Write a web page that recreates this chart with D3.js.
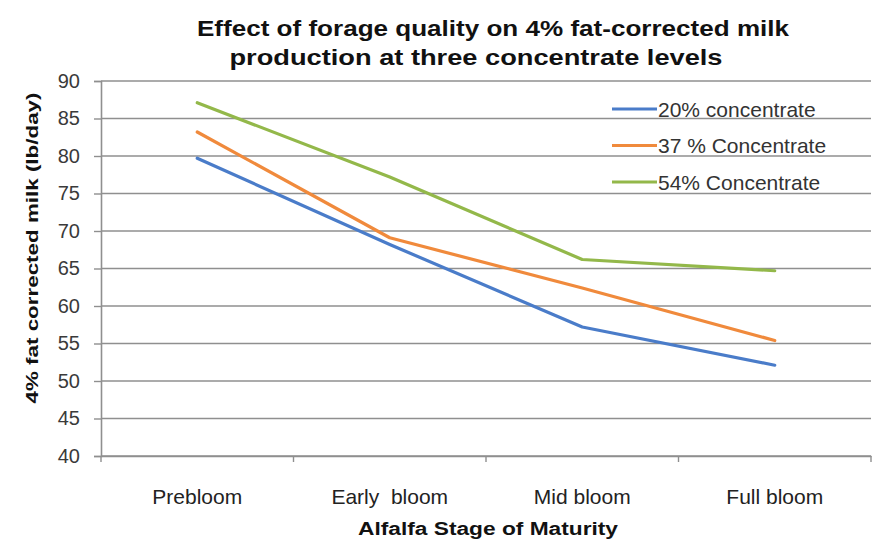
<!DOCTYPE html>
<html><head><meta charset="utf-8">
<script src="https://cdn.jsdelivr.net/npm/d3@7"></script>
<style>body{margin:0;background:#fff}svg{display:block}text{font-family:"Liberation Sans",Arial,Helvetica,sans-serif}</style>
</head><body>
<svg id="c" width="877" height="544"></svg>
<script>
const categories = ["Prebloom", "Early  bloom", "Mid bloom", "Full bloom"];
const conc20 = [79.7, 68.2, 57.2, 52.1];
const conc37 = [83.2, 69.1, 62.4, 55.4];
const conc54 = [87.1, 77.2, 66.2, 64.7];
const seriesNames = ["20% concentrate", "37 % Concentrate", "54% Concentrate"];
const seriesColors = ["#4a7cc9", "#f08a3c", "#93b84a"];
const yTicks = [40, 45, 50, 55, 60, 65, 70, 75, 80, 85, 90];
const titleLines = ["Effect of forage quality on 4% fat-corrected milk", "production at three concentrate levels"];
const xTitle = "Alfalfa Stage of Maturity";
const yTitle = "4% fat corrected milk (lb/day)";

const svg = d3.select("#c");
const L = 101, R = 871, T = 81, B = 456;
const x = d3.scaleBand().domain(categories).range([L, R]);
const y = d3.scaleLinear().domain([40, 90]).range([B, T]);
const boldFont = '"DejaVu Sans","Liberation Sans",Arial,sans-serif';

// gridlines
svg.append("g").selectAll("line").data(yTicks).join("line")
  .attr("x1", L).attr("x2", R)
  .attr("y1", d => y(d)).attr("y2", d => y(d))
  .attr("stroke", "#8f8f8f").attr("stroke-width", 1.6);

// y axis
const ya = svg.append("g").attr("transform", `translate(${L},0)`)
  .call(d3.axisLeft(y).tickValues(yTicks).tickSize(7).tickPadding(14));
ya.select(".domain").attr("stroke", "#8f8f8f").attr("stroke-width", 1.6);
ya.selectAll(".tick line").attr("stroke", "#8f8f8f").attr("stroke-width", 1.4);
ya.selectAll("text").attr("font-size", 20).attr("fill", "#3a3a3a")
  .attr("font-family", '"Liberation Sans",Arial,sans-serif');

// x axis
const xa = svg.append("g").attr("transform", `translate(0,${B})`)
  .call(d3.axisBottom(x).tickSize(0).tickPadding(33));
xa.select(".domain").attr("stroke", "#8f8f8f").attr("stroke-width", 1.6);
xa.selectAll("text").attr("font-size", 21).attr("fill", "#222")
  .attr("font-family", '"Liberation Sans",Arial,sans-serif')
  .style("white-space", "pre");
const bounds = categories.map(c => x(c)).concat([R]);
svg.append("g").selectAll("line").data(bounds).join("line")
  .attr("x1", d => d).attr("x2", d => d).attr("y1", B).attr("y2", B + 6)
  .attr("stroke", "#8f8f8f").attr("stroke-width", 1.4);

// lines
const series = [conc20, conc37, conc54];
const line = d3.line().x((d, i) => x(categories[i]) + x.bandwidth() / 2).y(d => y(d));
svg.append("g").selectAll("path").data(series).join("path")
  .attr("d", d => line(d)).attr("fill", "none")
  .attr("stroke", (d, i) => seriesColors[i]).attr("stroke-width", 3.2)
  .attr("stroke-linejoin", "round").attr("stroke-linecap", "round");

// legend
const lg = svg.append("g").selectAll("g").data(seriesNames).join("g")
  .attr("transform", (d, i) => `translate(612,${109 + i * 36.5})`);
lg.append("line").attr("x1", 0).attr("x2", 45).attr("y1", 0).attr("y2", 0)
  .attr("stroke", (d, i) => seriesColors[i]).attr("stroke-width", 3);
lg.append("text").attr("x", 46).attr("y", 7.5).attr("font-size", 21).attr("fill", "#333")
  .text(d => d);

// titles
svg.append("text").attr("x", 493).attr("y", 36).attr("text-anchor", "middle")
  .attr("font-family", boldFont).attr("textLength", 592).attr("lengthAdjust", "spacingAndGlyphs")
  .attr("font-size", 22).attr("font-weight", "bold").attr("fill", "#111").text(titleLines[0]);
svg.append("text").attr("x", 476).attr("y", 65).attr("text-anchor", "middle")
  .attr("font-family", boldFont).attr("textLength", 493).attr("lengthAdjust", "spacingAndGlyphs")
  .attr("font-size", 22).attr("font-weight", "bold").attr("fill", "#111").text(titleLines[1]);
svg.append("text").attr("x", 488).attr("y", 535).attr("text-anchor", "middle")
  .attr("font-family", boldFont).attr("textLength", 260).attr("lengthAdjust", "spacingAndGlyphs")
  .attr("font-size", 18).attr("font-weight", "bold").attr("fill", "#111").text(xTitle);
svg.append("text").attr("transform", "translate(38,248) rotate(-90)").attr("text-anchor", "middle")
  .attr("font-family", boldFont).attr("textLength", 311).attr("lengthAdjust", "spacingAndGlyphs")
  .attr("font-size", 17).attr("font-weight", "bold").attr("fill", "#111").text(yTitle);
</script>
</body></html>
